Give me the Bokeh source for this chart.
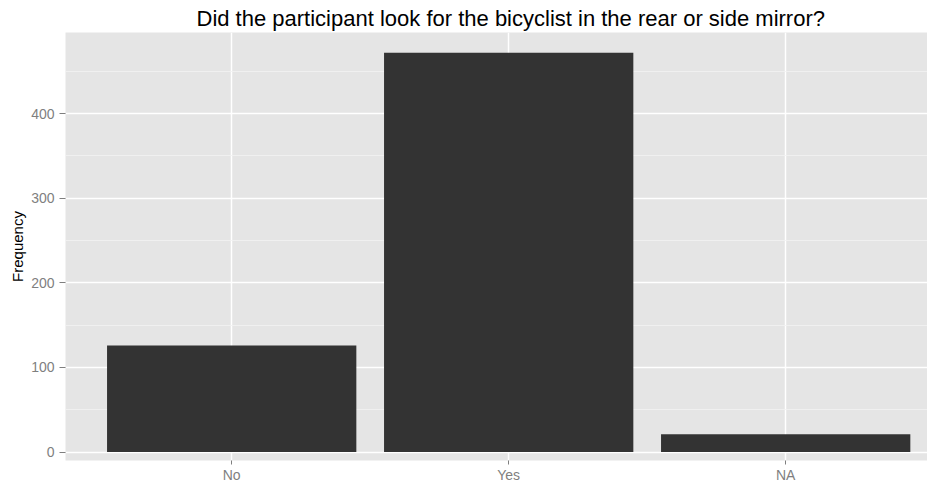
from bokeh.plotting import figure
from bokeh.models import Range1d, FixedTicker, ColumnDataSource
from bokeh.embed import file_html
from bokeh.resources import INLINE

categories = ["No", "Yes", "NA"]
frequency = [126, 472, 21]
y_ticks = [0, 100, 200, 300, 400]
y_minor = [50, 150, 250, 350, 450]

positions = list(range(1, len(categories) + 1))
source = ColumnDataSource(dict(x=positions, top=frequency, cat=categories))

FONT = "Liberation Sans"

p = figure(width=927, height=485, output_backend="svg", toolbar_location=None,
           x_range=Range1d(0.4, 3.512), y_range=Range1d(-10, 496),
           min_border_left=65, min_border_right=0, min_border_bottom=23, min_border_top=32,
           title="Did the participant look for the bicyclist in the rear or side mirror?")

p.title.text_font = FONT
p.title.text_font_size = "22px"
p.title.text_font_style = "normal"
p.title.text_color = "#000000"
p.title.align = "left"
p.title.offset = 131
p.title.standoff = 3

p.background_fill_color = "#e5e5e5"
p.border_fill_color = "#ffffff"
p.outline_line_color = None

p.vbar(x="x", top="top", bottom=0, width=0.9, source=source,
       fill_color="#333333", line_color=None)

# axes
p.xaxis.ticker = FixedTicker(ticks=positions)
p.xaxis.major_label_overrides = {pos: c for pos, c in zip(positions, categories)}
p.yaxis.ticker = FixedTicker(ticks=y_ticks, minor_ticks=y_minor)

for ax in (p.xaxis[0], p.yaxis[0]):
    ax.axis_line_color = None
    ax.major_tick_line_color = "#7f7f7f"
    ax.major_tick_in = 0
    ax.minor_tick_line_color = None
    ax.major_label_text_color = "#7f7f7f"
    ax.major_label_text_font = FONT
    ax.major_label_text_font_size = "14px"

p.xaxis.major_tick_out = 4
p.xaxis.major_label_standoff = 2
p.yaxis.major_tick_out = 6
p.yaxis.major_label_standoff = 5

p.yaxis.axis_label = "Frequency"
p.yaxis.axis_label_text_font = FONT
p.yaxis.axis_label_text_font_size = "15px"
p.yaxis.axis_label_text_font_style = "normal"
p.yaxis.axis_label_text_color = "#000000"
p.yaxis.axis_label_standoff = 2

# grids
p.xgrid.grid_line_color = "#ffffff"
p.xgrid.grid_line_width = 1.5
p.ygrid.grid_line_color = "#ffffff"
p.ygrid.grid_line_width = 1.5
p.ygrid.minor_grid_line_color = "#f2f2f2"
p.ygrid.minor_grid_line_width = 0.8

open("out.html", "w").write(file_html(p, INLINE))
